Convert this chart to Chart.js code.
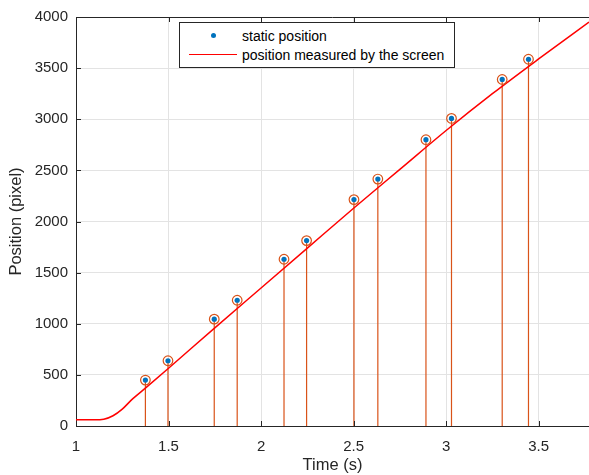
<!DOCTYPE html>
<html>
<head>
<meta charset="utf-8">
<script src="https://cdn.jsdelivr.net/npm/chart.js@4/dist/chart.umd.min.js"></script>
<style>
  body { margin: 0; background: #fff; }
  #wrap { position: relative; width: 589px; height: 475px; overflow: hidden; }
  #legend {
    position: absolute; left: 179px; top: 22px; width: 276px; height: 46px;
    box-sizing: border-box; border: 1px solid #262626; background: #fff;
    font: 14px "Liberation Sans", Arial, sans-serif; color: #000;
  }
  #legend .row { position: absolute; left: 0; height: 18px; line-height: 18px; }
  #legend .txt { position: absolute; left: 62px; white-space: nowrap; }
  #legend .dot { position: absolute; left: 31px; top: 6px; width: 5px; height: 5px; border-radius: 50%; background: #0072BD; }
  #legend .ln { position: absolute; left: 9px; top: 8px; width: 48px; height: 1px; background: #FF0000; }
</style>
</head>
<body>
<div id="wrap">
  <canvas id="chart" width="589" height="475"></canvas>
  <div id="legend">
    <div class="row" style="top:4px"><span class="dot"></span><span class="txt">static position</span></div>
    <div class="row" style="top:23px"><span class="ln"></span><span class="txt">position measured by the screen</span></div>
  </div>
</div>
<script>
// static positions (s, pixel)
const staticTime = [1.375, 1.497, 1.747, 1.871, 2.124, 2.246, 2.502, 2.631, 2.891, 3.029, 3.303, 3.445]
const staticPos = [449, 638, 1045, 1230, 1631, 1813, 2214, 2415, 2800, 3008, 3389, 3587]

// position measured by the screen
const screenTime = [1.00, 1.10, 1.15, 1.20, 1.25, 1.30, 1.375, 1.50, 1.75, 2.00, 2.25, 2.50, 2.75, 3.00, 3.25, 3.50, 3.772]
const screenPos = [60, 60, 66, 100, 165, 255, 370, 565, 960, 1350, 1740, 2130, 2510, 2890, 3250, 3590, 3950]

const xTicks = [1, 1.5, 2, 2.5, 3, 3.5]
const yTicks = [0, 500, 1000, 1500, 2000, 2500, 3000, 3500, 4000]

const font = '"Liberation Sans", Arial, sans-serif'
const axisColor = '#262626'

const staticPoints = staticTime.map((t, i) => ({ x: t, y: staticPos[i] }))
const screenPoints = screenTime.map((t, i) => ({ x: t, y: screenPos[i] }))
const stemPoints = []
staticTime.forEach((t, i) => {
    stemPoints.push({ x: t, y: 0 }, { x: t, y: staticPos[i] }, { x: t, y: null })
})

// MATLAB style box: top edge and inward tick marks
const axesBox = {
    id: 'axesBox',
    afterDraw(chart) {
        const { ctx, chartArea: a, scales } = chart
        ctx.save()
        ctx.strokeStyle = axisColor
        ctx.lineWidth = 1
        ctx.beginPath()
        ctx.moveTo(a.left, a.top + 0.5)
        ctx.lineTo(a.right, a.top + 0.5)
        xTicks.forEach((v) => {
            const px = Math.round(scales.x.getPixelForValue(v)) + 0.5
            ctx.moveTo(px, a.bottom)
            ctx.lineTo(px, a.bottom - 5)
            ctx.moveTo(px, a.top)
            ctx.lineTo(px, a.top + 5)
        })
        yTicks.forEach((v) => {
            const py = Math.round(scales.y.getPixelForValue(v)) + 0.5
            ctx.moveTo(a.left, py)
            ctx.lineTo(a.left + 5, py)
        })
        ctx.stroke()
        ctx.restore()
    }
}

new Chart(document.getElementById('chart'), {
    type: 'scatter',
    data: {
        datasets: [
            {
                label: 'static position',
                data: staticPoints,
                pointRadius: 2.6,
                pointBackgroundColor: '#0072BD',
                pointBorderWidth: 0,
                order: 0
            },
            {
                label: 'stem marker',
                data: staticPoints,
                pointRadius: 4.8,
                pointBackgroundColor: 'rgba(0,0,0,0)',
                pointBorderColor: '#D95319',
                pointBorderWidth: 1.2,
                order: 1
            },
            {
                label: 'position measured by the screen',
                data: screenPoints,
                showLine: true,
                borderColor: '#FF0000',
                borderWidth: 1.5,
                pointRadius: 0,
                cubicInterpolationMode: 'monotone',
                order: 2
            },
            {
                label: 'stem',
                data: stemPoints,
                showLine: true,
                spanGaps: false,
                borderColor: '#D95319',
                borderWidth: 1.2,
                pointRadius: 0,
                order: 3
            }
        ]
    },
    options: {
        responsive: false,
        animation: false,
        layout: { autoPadding: false, padding: { top: 16, right: 0, left: 0, bottom: 0 } },
        plugins: { legend: { display: false }, tooltip: { enabled: false } },
        scales: {
            x: {
                type: 'linear',
                min: 1,
                max: 3.772,
                afterBuildTicks: (scale) => { scale.ticks = xTicks.map((v) => ({ value: v })) },
                afterFit: (scale) => { scale.height = 49 },
                grid: { color: '#e3e3e3', drawTicks: false },
                border: { color: axisColor, width: 1 },
                ticks: { color: axisColor, font: { family: font, size: 15 }, padding: 12, maxRotation: 0, callback: (v) => String(v) },
                title: { display: true, text: 'Time (s)', color: axisColor, font: { family: font, size: 16.5 }, padding: { top: 0, bottom: 0 } }
            },
            y: {
                min: 0,
                max: 4000,
                afterBuildTicks: (scale) => { scale.ticks = yTicks.map((v) => ({ value: v })) },
                afterFit: (scale) => { scale.width = 76 },
                grid: { color: '#e3e3e3', drawTicks: false },
                border: { color: axisColor, width: 1 },
                ticks: { color: axisColor, font: { family: font, size: 15 }, padding: 8, callback: (v) => String(v) },
                title: { display: true, text: 'Position (pixel)', color: axisColor, font: { family: font, size: 16.5 }, padding: { top: 7, bottom: 0 } }
            }
        }
    },
    plugins: [axesBox]
})
</script>
</body>
</html>
